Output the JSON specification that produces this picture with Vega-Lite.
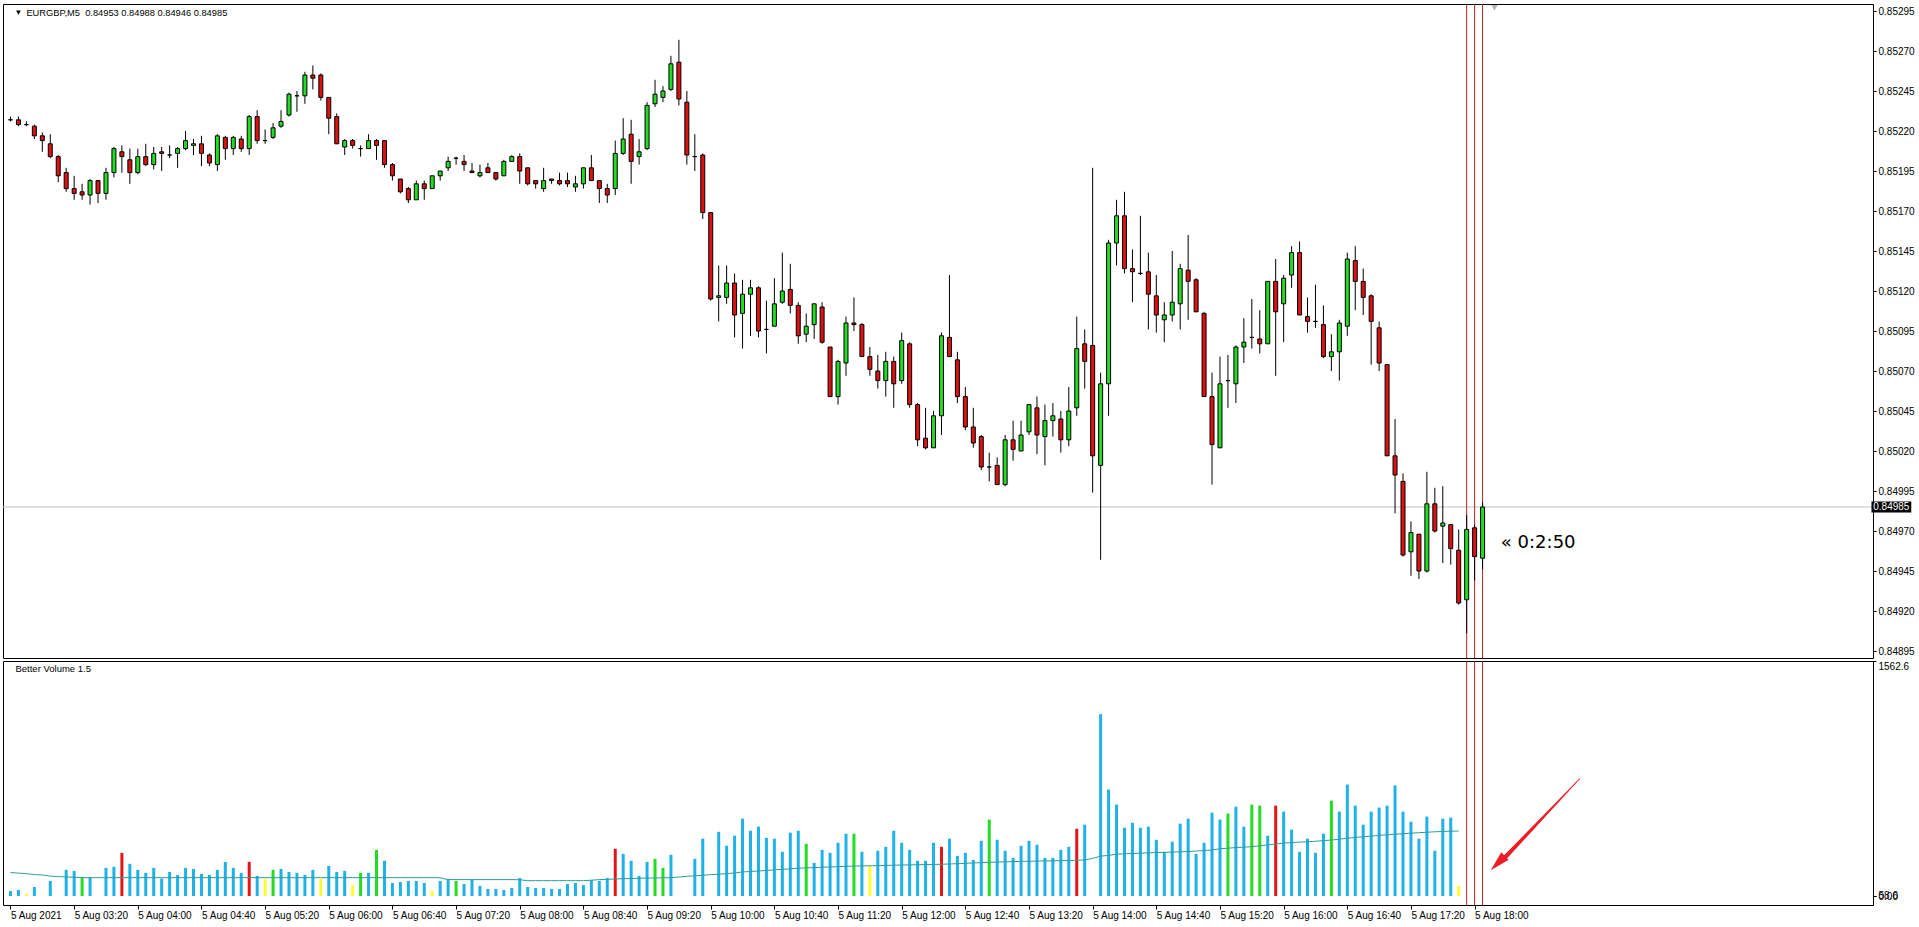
{
"$schema": "https://vega.github.io/schema/vega-lite/v6.json",
"background": "white",
"padding": {"left": 2, "top": 3, "right": 0, "bottom": 0},
"spacing": 3,
"bounds": "flush",
"config": {"view": {"stroke": "#000000", "strokeWidth": 1}, "font": "Liberation Sans", "axis": {"labelFont": "Liberation Sans", "labelFontSize": 10, "labelColor": "#000000", "tickColor": "#000000", "domain": false, "grid": false}},
"datasets": {
"bars": [
{"i":0,"t":"02:40","o":0.85227,"h":0.85229,"l":0.85226,"c":0.85227,"v":33,"vt":"normal","ma":156},
{"i":1,"t":"02:45","o":0.85227,"h":0.85229,"l":0.85223,"c":0.85224,"v":40,"vt":"normal","ma":152},
{"i":2,"t":"02:50","o":0.85224,"h":0.85226,"l":0.85223,"c":0.85224,"v":18,"vt":"low","ma":149},
{"i":3,"t":"02:55","o":0.85223,"h":0.85224,"l":0.85215,"c":0.85217,"v":60,"vt":"normal","ma":142},
{"i":4,"t":"03:00","o":0.85217,"h":0.85219,"l":0.85207,"c":0.85214,"v":90,"vt":"climaxdown","ma":140},
{"i":5,"t":"03:05","o":0.85212,"h":0.85218,"l":0.85203,"c":0.85204,"v":100,"vt":"normal","ma":132},
{"i":6,"t":"03:10","o":0.85204,"h":0.85205,"l":0.85188,"c":0.85192,"v":120,"vt":"climaxdown","ma":129},
{"i":7,"t":"03:15","o":0.85194,"h":0.85197,"l":0.85182,"c":0.85184,"v":174,"vt":"normal","ma":127},
{"i":8,"t":"03:20","o":0.85184,"h":0.85192,"l":0.85177,"c":0.85181,"v":167,"vt":"normal","ma":124},
{"i":9,"t":"03:25","o":0.85182,"h":0.85187,"l":0.85177,"c":0.8518,"v":122,"vt":"churn","ma":123},
{"i":10,"t":"03:30","o":0.8518,"h":0.8519,"l":0.85174,"c":0.85189,"v":122,"vt":"normal","ma":122},
{"i":11,"t":"03:35","o":0.85189,"h":0.85189,"l":0.85175,"c":0.85181,"v":110,"vt":"climaxdown","ma":122},
{"i":12,"t":"03:40","o":0.85181,"h":0.85197,"l":0.85177,"c":0.85194,"v":187,"vt":"normal","ma":122},
{"i":13,"t":"03:45","o":0.85194,"h":0.8521,"l":0.85191,"c":0.85209,"v":194,"vt":"normal","ma":122},
{"i":14,"t":"03:50","o":0.85207,"h":0.85211,"l":0.85194,"c":0.85204,"v":287,"vt":"climaxup","ma":122},
{"i":15,"t":"03:55","o":0.85202,"h":0.85209,"l":0.85187,"c":0.85194,"v":214,"vt":"normal","ma":122},
{"i":16,"t":"04:00","o":0.85194,"h":0.85209,"l":0.85193,"c":0.85204,"v":174,"vt":"normal","ma":122},
{"i":17,"t":"04:05","o":0.85204,"h":0.85212,"l":0.85198,"c":0.85199,"v":154,"vt":"normal","ma":122},
{"i":18,"t":"04:10","o":0.85199,"h":0.8521,"l":0.85196,"c":0.85206,"v":187,"vt":"normal","ma":122},
{"i":19,"t":"04:15","o":0.85207,"h":0.8521,"l":0.85195,"c":0.85206,"v":116,"vt":"normal","ma":122},
{"i":20,"t":"04:20","o":0.85205,"h":0.85211,"l":0.85203,"c":0.85205,"v":160,"vt":"normal","ma":122},
{"i":21,"t":"04:25","o":0.85206,"h":0.8521,"l":0.85197,"c":0.85209,"v":140,"vt":"normal","ma":122},
{"i":22,"t":"04:30","o":0.85209,"h":0.8522,"l":0.85208,"c":0.85214,"v":187,"vt":"normal","ma":122},
{"i":23,"t":"04:35","o":0.85211,"h":0.85215,"l":0.85205,"c":0.85212,"v":180,"vt":"normal","ma":122},
{"i":24,"t":"04:40","o":0.85212,"h":0.85217,"l":0.85198,"c":0.85206,"v":147,"vt":"normal","ma":122},
{"i":25,"t":"04:45","o":0.85205,"h":0.85206,"l":0.85198,"c":0.852,"v":140,"vt":"normal","ma":122},
{"i":26,"t":"04:50","o":0.85199,"h":0.85218,"l":0.85195,"c":0.85217,"v":174,"vt":"normal","ma":122},
{"i":27,"t":"04:55","o":0.85216,"h":0.85217,"l":0.85202,"c":0.85209,"v":227,"vt":"normal","ma":122},
{"i":28,"t":"05:00","o":0.85209,"h":0.85217,"l":0.85205,"c":0.85216,"v":187,"vt":"normal","ma":122},
{"i":29,"t":"05:05","o":0.85215,"h":0.85217,"l":0.85207,"c":0.85209,"v":154,"vt":"normal","ma":122},
{"i":30,"t":"05:10","o":0.85209,"h":0.8523,"l":0.85205,"c":0.85229,"v":227,"vt":"climaxup","ma":122},
{"i":31,"t":"05:15","o":0.85229,"h":0.85233,"l":0.85212,"c":0.85214,"v":134,"vt":"normal","ma":122},
{"i":32,"t":"05:20","o":0.85214,"h":0.85221,"l":0.85212,"c":0.85214,"v":114,"vt":"low","ma":122},
{"i":33,"t":"05:25","o":0.85216,"h":0.85225,"l":0.85215,"c":0.85222,"v":174,"vt":"churn","ma":122},
{"i":34,"t":"05:30","o":0.85223,"h":0.85233,"l":0.85222,"c":0.85226,"v":180,"vt":"normal","ma":122},
{"i":35,"t":"05:35","o":0.8523,"h":0.85244,"l":0.85229,"c":0.85243,"v":160,"vt":"normal","ma":122},
{"i":36,"t":"05:40","o":0.85242,"h":0.85245,"l":0.85232,"c":0.85242,"v":154,"vt":"normal","ma":122},
{"i":37,"t":"05:45","o":0.85242,"h":0.85257,"l":0.85237,"c":0.85255,"v":140,"vt":"normal","ma":122},
{"i":38,"t":"05:50","o":0.85255,"h":0.85261,"l":0.85246,"c":0.85253,"v":174,"vt":"normal","ma":122},
{"i":39,"t":"05:55","o":0.85255,"h":0.85256,"l":0.85239,"c":0.85241,"v":114,"vt":"low","ma":122},
{"i":40,"t":"06:00","o":0.85241,"h":0.85241,"l":0.85218,"c":0.85228,"v":200,"vt":"normal","ma":122},
{"i":41,"t":"06:05","o":0.85229,"h":0.85231,"l":0.85212,"c":0.85212,"v":160,"vt":"normal","ma":122},
{"i":42,"t":"06:10","o":0.8521,"h":0.85215,"l":0.85205,"c":0.85214,"v":167,"vt":"normal","ma":122},
{"i":43,"t":"06:15","o":0.85214,"h":0.85215,"l":0.85209,"c":0.85211,"v":73,"vt":"low","ma":122},
{"i":44,"t":"06:20","o":0.85209,"h":0.85211,"l":0.85204,"c":0.85209,"v":154,"vt":"churn","ma":122},
{"i":45,"t":"06:25","o":0.85209,"h":0.85218,"l":0.85209,"c":0.85214,"v":154,"vt":"normal","ma":122},
{"i":46,"t":"06:30","o":0.85214,"h":0.85215,"l":0.85202,"c":0.85211,"v":307,"vt":"churn","ma":122},
{"i":47,"t":"06:35","o":0.85214,"h":0.85214,"l":0.85197,"c":0.85199,"v":234,"vt":"normal","ma":122},
{"i":48,"t":"06:40","o":0.85199,"h":0.852,"l":0.85189,"c":0.85192,"v":87,"vt":"normal","ma":122},
{"i":49,"t":"06:45","o":0.8519,"h":0.8519,"l":0.85181,"c":0.85182,"v":93,"vt":"normal","ma":122},
{"i":50,"t":"06:50","o":0.85184,"h":0.85185,"l":0.85175,"c":0.85177,"v":100,"vt":"normal","ma":122},
{"i":51,"t":"06:55","o":0.85177,"h":0.85189,"l":0.85177,"c":0.85187,"v":100,"vt":"normal","ma":122},
{"i":52,"t":"07:00","o":0.85187,"h":0.85189,"l":0.85177,"c":0.85184,"v":87,"vt":"normal","ma":122},
{"i":53,"t":"07:05","o":0.85184,"h":0.85192,"l":0.85184,"c":0.85192,"v":33,"vt":"low","ma":122},
{"i":54,"t":"07:10","o":0.85192,"h":0.85195,"l":0.85189,"c":0.85195,"v":100,"vt":"normal","ma":121},
{"i":55,"t":"07:15","o":0.85197,"h":0.85204,"l":0.85195,"c":0.85201,"v":114,"vt":"normal","ma":109},
{"i":56,"t":"07:20","o":0.85203,"h":0.85204,"l":0.85199,"c":0.85203,"v":100,"vt":"churn","ma":109},
{"i":57,"t":"07:25","o":0.85201,"h":0.85205,"l":0.85195,"c":0.85199,"v":80,"vt":"normal","ma":109},
{"i":58,"t":"07:30","o":0.85195,"h":0.852,"l":0.85194,"c":0.85194,"v":107,"vt":"normal","ma":109},
{"i":59,"t":"07:35","o":0.85192,"h":0.85199,"l":0.85191,"c":0.85194,"v":67,"vt":"normal","ma":109},
{"i":60,"t":"07:40","o":0.85197,"h":0.852,"l":0.85194,"c":0.85194,"v":47,"vt":"normal","ma":109},
{"i":61,"t":"07:45","o":0.85194,"h":0.85194,"l":0.85189,"c":0.8519,"v":47,"vt":"normal","ma":109},
{"i":62,"t":"07:50","o":0.85192,"h":0.85202,"l":0.85192,"c":0.85201,"v":40,"vt":"normal","ma":109},
{"i":63,"t":"07:55","o":0.85201,"h":0.85205,"l":0.85201,"c":0.85204,"v":53,"vt":"normal","ma":109},
{"i":64,"t":"08:00","o":0.85204,"h":0.85206,"l":0.85187,"c":0.85195,"v":120,"vt":"normal","ma":108},
{"i":65,"t":"08:05","o":0.85197,"h":0.85197,"l":0.85186,"c":0.85187,"v":60,"vt":"normal","ma":102},
{"i":66,"t":"08:10","o":0.85189,"h":0.85189,"l":0.85184,"c":0.85187,"v":53,"vt":"normal","ma":102},
{"i":67,"t":"08:15","o":0.85184,"h":0.85197,"l":0.85182,"c":0.85189,"v":53,"vt":"normal","ma":102},
{"i":68,"t":"08:20","o":0.8519,"h":0.8519,"l":0.85187,"c":0.85189,"v":47,"vt":"normal","ma":102},
{"i":69,"t":"08:25","o":0.85189,"h":0.85194,"l":0.85186,"c":0.85187,"v":47,"vt":"normal","ma":102},
{"i":70,"t":"08:30","o":0.85189,"h":0.85194,"l":0.85185,"c":0.85187,"v":80,"vt":"normal","ma":102},
{"i":71,"t":"08:35","o":0.85185,"h":0.85192,"l":0.85182,"c":0.85187,"v":87,"vt":"normal","ma":102},
{"i":72,"t":"08:40","o":0.85187,"h":0.85197,"l":0.85184,"c":0.85197,"v":73,"vt":"normal","ma":102},
{"i":73,"t":"08:45","o":0.85197,"h":0.85205,"l":0.85189,"c":0.85189,"v":107,"vt":"normal","ma":105},
{"i":74,"t":"08:50","o":0.85189,"h":0.85189,"l":0.85175,"c":0.85184,"v":100,"vt":"normal","ma":109},
{"i":75,"t":"08:55","o":0.85184,"h":0.85187,"l":0.85175,"c":0.8518,"v":120,"vt":"normal","ma":111},
{"i":76,"t":"09:00","o":0.85184,"h":0.85214,"l":0.8518,"c":0.85206,"v":314,"vt":"climaxup","ma":113},
{"i":77,"t":"09:05","o":0.85206,"h":0.85228,"l":0.85205,"c":0.85215,"v":280,"vt":"normal","ma":115},
{"i":78,"t":"09:10","o":0.85218,"h":0.85227,"l":0.85187,"c":0.85201,"v":234,"vt":"normal","ma":116},
{"i":79,"t":"09:15","o":0.85204,"h":0.85215,"l":0.85199,"c":0.85207,"v":134,"vt":"normal","ma":118},
{"i":80,"t":"09:20","o":0.85209,"h":0.85238,"l":0.85208,"c":0.85236,"v":227,"vt":"normal","ma":119},
{"i":81,"t":"09:25","o":0.85237,"h":0.85252,"l":0.85235,"c":0.85243,"v":247,"vt":"churn","ma":120},
{"i":82,"t":"09:30","o":0.85241,"h":0.85248,"l":0.85238,"c":0.85245,"v":187,"vt":"churn","ma":121},
{"i":83,"t":"09:35","o":0.85246,"h":0.85267,"l":0.85245,"c":0.85262,"v":274,"vt":"normal","ma":122},
{"i":84,"t":"09:40","o":0.85263,"h":0.85277,"l":0.85236,"c":0.8524,"v":450,"vt":"climaxdown","ma":126},
{"i":85,"t":"09:45","o":0.85238,"h":0.85245,"l":0.85199,"c":0.85205,"v":350,"vt":"climaxdown","ma":131},
{"i":86,"t":"09:50","o":0.85204,"h":0.85218,"l":0.85195,"c":0.85204,"v":247,"vt":"normal","ma":134},
{"i":87,"t":"09:55","o":0.85205,"h":0.85206,"l":0.85165,"c":0.85169,"v":381,"vt":"normal","ma":138},
{"i":88,"t":"10:00","o":0.85169,"h":0.85169,"l":0.85114,"c":0.85115,"v":550,"vt":"climaxdown","ma":142},
{"i":89,"t":"10:05","o":0.85116,"h":0.85136,"l":0.85101,"c":0.85117,"v":427,"vt":"normal","ma":145},
{"i":90,"t":"10:10","o":0.85116,"h":0.85136,"l":0.85112,"c":0.85125,"v":334,"vt":"normal","ma":149},
{"i":91,"t":"10:15","o":0.85125,"h":0.85131,"l":0.85091,"c":0.85105,"v":401,"vt":"normal","ma":153},
{"i":92,"t":"10:20","o":0.85106,"h":0.85127,"l":0.85084,"c":0.85118,"v":514,"vt":"normal","ma":160},
{"i":93,"t":"10:25","o":0.85118,"h":0.85127,"l":0.85092,"c":0.85122,"v":434,"vt":"normal","ma":163},
{"i":94,"t":"10:30","o":0.85122,"h":0.85123,"l":0.85091,"c":0.85095,"v":461,"vt":"normal","ma":166},
{"i":95,"t":"10:35","o":0.85096,"h":0.85114,"l":0.85081,"c":0.85096,"v":387,"vt":"normal","ma":170},
{"i":96,"t":"10:40","o":0.85098,"h":0.85128,"l":0.85098,"c":0.85112,"v":381,"vt":"normal","ma":174},
{"i":97,"t":"10:45","o":0.85113,"h":0.85144,"l":0.85112,"c":0.8512,"v":294,"vt":"normal","ma":177},
{"i":98,"t":"10:50","o":0.85121,"h":0.85137,"l":0.85106,"c":0.85111,"v":421,"vt":"normal","ma":180},
{"i":99,"t":"10:55","o":0.85111,"h":0.85113,"l":0.85087,"c":0.85092,"v":434,"vt":"normal","ma":185},
{"i":100,"t":"11:00","o":0.85093,"h":0.85106,"l":0.85088,"c":0.85098,"v":347,"vt":"churn","ma":187},
{"i":101,"t":"11:05","o":0.85099,"h":0.85112,"l":0.8509,"c":0.85112,"v":220,"vt":"normal","ma":189},
{"i":102,"t":"11:10","o":0.8511,"h":0.85113,"l":0.85087,"c":0.85088,"v":307,"vt":"normal","ma":191},
{"i":103,"t":"11:15","o":0.85085,"h":0.85085,"l":0.85054,"c":0.85054,"v":287,"vt":"normal","ma":193},
{"i":104,"t":"11:20","o":0.85054,"h":0.85077,"l":0.85049,"c":0.85076,"v":354,"vt":"normal","ma":195},
{"i":105,"t":"11:25","o":0.85075,"h":0.85104,"l":0.85067,"c":0.851,"v":414,"vt":"normal","ma":197},
{"i":106,"t":"11:30","o":0.851,"h":0.85116,"l":0.85095,"c":0.85099,"v":414,"vt":"churn","ma":199},
{"i":107,"t":"11:35","o":0.85099,"h":0.851,"l":0.85079,"c":0.85079,"v":294,"vt":"normal","ma":200},
{"i":108,"t":"11:40","o":0.85079,"h":0.85085,"l":0.85067,"c":0.85071,"v":200,"vt":"low","ma":201},
{"i":109,"t":"11:45","o":0.8507,"h":0.8508,"l":0.85059,"c":0.85064,"v":301,"vt":"normal","ma":202},
{"i":110,"t":"11:50","o":0.85064,"h":0.85082,"l":0.85054,"c":0.85076,"v":327,"vt":"normal","ma":203},
{"i":111,"t":"11:55","o":0.85076,"h":0.85079,"l":0.85047,"c":0.85062,"v":434,"vt":"normal","ma":205},
{"i":112,"t":"12:00","o":0.85064,"h":0.85094,"l":0.85062,"c":0.85089,"v":354,"vt":"normal","ma":206},
{"i":113,"t":"12:05","o":0.85087,"h":0.85088,"l":0.85047,"c":0.85049,"v":307,"vt":"normal","ma":207},
{"i":114,"t":"12:10","o":0.85049,"h":0.8505,"l":0.85023,"c":0.85027,"v":234,"vt":"normal","ma":208},
{"i":115,"t":"12:15","o":0.85028,"h":0.85047,"l":0.85021,"c":0.85022,"v":234,"vt":"normal","ma":209},
{"i":116,"t":"12:20","o":0.85022,"h":0.85045,"l":0.85022,"c":0.85042,"v":354,"vt":"normal","ma":210},
{"i":117,"t":"12:25","o":0.85042,"h":0.85094,"l":0.8503,"c":0.85092,"v":327,"vt":"climaxup","ma":211},
{"i":118,"t":"12:30","o":0.85091,"h":0.8513,"l":0.85079,"c":0.85079,"v":381,"vt":"normal","ma":213},
{"i":119,"t":"12:35","o":0.85077,"h":0.85082,"l":0.8505,"c":0.85054,"v":267,"vt":"normal","ma":215},
{"i":120,"t":"12:40","o":0.85054,"h":0.8506,"l":0.85033,"c":0.85035,"v":287,"vt":"normal","ma":217},
{"i":121,"t":"12:45","o":0.85035,"h":0.85047,"l":0.85022,"c":0.85025,"v":240,"vt":"normal","ma":220},
{"i":122,"t":"12:50","o":0.85029,"h":0.8503,"l":0.85008,"c":0.8501,"v":367,"vt":"normal","ma":222},
{"i":123,"t":"12:55","o":0.8501,"h":0.85019,"l":0.85001,"c":0.8501,"v":508,"vt":"churn","ma":224},
{"i":124,"t":"13:00","o":0.85011,"h":0.85016,"l":0.84999,"c":0.84999,"v":374,"vt":"normal","ma":226},
{"i":125,"t":"13:05","o":0.84999,"h":0.8503,"l":0.84998,"c":0.85027,"v":301,"vt":"normal","ma":227},
{"i":126,"t":"13:10","o":0.85027,"h":0.85039,"l":0.85014,"c":0.85021,"v":254,"vt":"normal","ma":229},
{"i":127,"t":"13:15","o":0.8502,"h":0.85039,"l":0.8502,"c":0.8503,"v":334,"vt":"normal","ma":230},
{"i":128,"t":"13:20","o":0.85032,"h":0.85049,"l":0.8503,"c":0.85049,"v":367,"vt":"normal","ma":231},
{"i":129,"t":"13:25","o":0.85047,"h":0.85054,"l":0.85018,"c":0.8503,"v":341,"vt":"normal","ma":232},
{"i":130,"t":"13:30","o":0.85029,"h":0.85049,"l":0.85011,"c":0.85039,"v":254,"vt":"normal","ma":233},
{"i":131,"t":"13:35","o":0.85039,"h":0.8505,"l":0.85029,"c":0.85042,"v":254,"vt":"normal","ma":234},
{"i":132,"t":"13:40","o":0.8504,"h":0.85045,"l":0.85019,"c":0.85027,"v":307,"vt":"normal","ma":235},
{"i":133,"t":"13:45","o":0.85027,"h":0.8506,"l":0.85023,"c":0.85045,"v":327,"vt":"normal","ma":236},
{"i":134,"t":"13:50","o":0.85047,"h":0.85104,"l":0.85042,"c":0.85084,"v":447,"vt":"climaxup","ma":238},
{"i":135,"t":"13:55","o":0.85087,"h":0.85096,"l":0.85059,"c":0.85076,"v":474,"vt":"normal","ma":240},
{"i":136,"t":"14:00","o":0.85086,"h":0.85197,"l":0.84994,"c":0.85017,"v":650,"vt":"climaxdown","ma":250},
{"i":137,"t":"14:05","o":0.85011,"h":0.85069,"l":0.84952,"c":0.85062,"v":1209,"vt":"normal","ma":265},
{"i":138,"t":"14:10","o":0.85062,"h":0.85152,"l":0.85042,"c":0.8515,"v":708,"vt":"normal","ma":270},
{"i":139,"t":"14:15","o":0.8515,"h":0.85177,"l":0.85136,"c":0.85167,"v":608,"vt":"normal","ma":278},
{"i":140,"t":"14:20","o":0.85167,"h":0.85182,"l":0.85131,"c":0.85134,"v":454,"vt":"normal","ma":281},
{"i":141,"t":"14:25","o":0.85134,"h":0.85146,"l":0.85113,"c":0.85132,"v":487,"vt":"normal","ma":283},
{"i":142,"t":"14:30","o":0.85131,"h":0.85167,"l":0.8513,"c":0.85131,"v":454,"vt":"normal","ma":285},
{"i":143,"t":"14:35","o":0.85132,"h":0.85144,"l":0.85096,"c":0.85118,"v":461,"vt":"normal","ma":287},
{"i":144,"t":"14:40","o":0.85117,"h":0.8513,"l":0.85094,"c":0.85105,"v":374,"vt":"normal","ma":289},
{"i":145,"t":"14:45","o":0.85102,"h":0.85113,"l":0.85088,"c":0.85105,"v":294,"vt":"normal","ma":290},
{"i":146,"t":"14:50","o":0.85105,"h":0.85145,"l":0.85101,"c":0.85113,"v":361,"vt":"normal","ma":292},
{"i":147,"t":"14:55","o":0.85112,"h":0.85137,"l":0.85096,"c":0.85134,"v":481,"vt":"normal","ma":294},
{"i":148,"t":"15:00","o":0.85133,"h":0.85155,"l":0.85102,"c":0.85126,"v":514,"vt":"normal","ma":296},
{"i":149,"t":"15:05","o":0.85127,"h":0.85128,"l":0.85107,"c":0.85107,"v":280,"vt":"normal","ma":299},
{"i":150,"t":"15:10","o":0.85106,"h":0.85107,"l":0.85054,"c":0.85054,"v":354,"vt":"normal","ma":302},
{"i":151,"t":"15:15","o":0.85054,"h":0.85069,"l":0.84999,"c":0.85024,"v":554,"vt":"normal","ma":306},
{"i":152,"t":"15:20","o":0.85022,"h":0.85079,"l":0.85022,"c":0.85062,"v":508,"vt":"normal","ma":314},
{"i":153,"t":"15:25","o":0.85064,"h":0.8508,"l":0.85047,"c":0.85064,"v":548,"vt":"churn","ma":318},
{"i":154,"t":"15:30","o":0.85062,"h":0.85086,"l":0.8505,"c":0.85085,"v":594,"vt":"normal","ma":322},
{"i":155,"t":"15:35","o":0.85085,"h":0.85103,"l":0.85075,"c":0.85088,"v":461,"vt":"normal","ma":325},
{"i":156,"t":"15:40","o":0.85091,"h":0.85115,"l":0.85084,"c":0.85091,"v":608,"vt":"churn","ma":328},
{"i":157,"t":"15:45","o":0.8509,"h":0.85108,"l":0.85081,"c":0.85087,"v":601,"vt":"churn","ma":334},
{"i":158,"t":"15:50","o":0.85087,"h":0.85126,"l":0.85087,"c":0.85126,"v":401,"vt":"normal","ma":340},
{"i":159,"t":"15:55","o":0.85126,"h":0.8514,"l":0.85067,"c":0.85107,"v":601,"vt":"climaxup","ma":346},
{"i":160,"t":"16:00","o":0.85112,"h":0.8513,"l":0.85088,"c":0.85128,"v":561,"vt":"normal","ma":352},
{"i":161,"t":"16:05","o":0.8513,"h":0.85148,"l":0.85122,"c":0.85144,"v":441,"vt":"normal","ma":355},
{"i":162,"t":"16:10","o":0.85144,"h":0.85151,"l":0.85105,"c":0.85105,"v":294,"vt":"normal","ma":358},
{"i":163,"t":"16:15","o":0.85104,"h":0.85116,"l":0.85094,"c":0.85101,"v":381,"vt":"normal","ma":361},
{"i":164,"t":"16:20","o":0.85101,"h":0.85124,"l":0.85097,"c":0.85101,"v":287,"vt":"normal","ma":364},
{"i":165,"t":"16:25","o":0.85099,"h":0.85111,"l":0.85078,"c":0.85079,"v":414,"vt":"normal","ma":368},
{"i":166,"t":"16:30","o":0.85079,"h":0.85093,"l":0.8507,"c":0.85082,"v":634,"vt":"churn","ma":372},
{"i":167,"t":"16:35","o":0.85082,"h":0.85102,"l":0.85064,"c":0.851,"v":561,"vt":"normal","ma":378},
{"i":168,"t":"16:40","o":0.85098,"h":0.85144,"l":0.85092,"c":0.8514,"v":741,"vt":"normal","ma":384},
{"i":169,"t":"16:45","o":0.85139,"h":0.85148,"l":0.85108,"c":0.85126,"v":601,"vt":"normal","ma":390},
{"i":170,"t":"16:50","o":0.85126,"h":0.85134,"l":0.85105,"c":0.85116,"v":474,"vt":"normal","ma":394},
{"i":171,"t":"16:55","o":0.85117,"h":0.85118,"l":0.85074,"c":0.85101,"v":561,"vt":"normal","ma":398},
{"i":172,"t":"17:00","o":0.85097,"h":0.85101,"l":0.8507,"c":0.85075,"v":588,"vt":"normal","ma":403},
{"i":173,"t":"17:05","o":0.85074,"h":0.85074,"l":0.85017,"c":0.85017,"v":601,"vt":"normal","ma":407},
{"i":174,"t":"17:10","o":0.85017,"h":0.8504,"l":0.84981,"c":0.85005,"v":735,"vt":"normal","ma":411},
{"i":175,"t":"17:15","o":0.85001,"h":0.85006,"l":0.84954,"c":0.84955,"v":561,"vt":"normal","ma":414},
{"i":176,"t":"17:20","o":0.84957,"h":0.84976,"l":0.84942,"c":0.84969,"v":494,"vt":"normal","ma":418},
{"i":177,"t":"17:25","o":0.84968,"h":0.84968,"l":0.8494,"c":0.84945,"v":381,"vt":"normal","ma":421},
{"i":178,"t":"17:30","o":0.84945,"h":0.85007,"l":0.84944,"c":0.84987,"v":528,"vt":"normal","ma":424},
{"i":179,"t":"17:35","o":0.84987,"h":0.84997,"l":0.84969,"c":0.8497,"v":301,"vt":"normal","ma":427},
{"i":180,"t":"17:40","o":0.84973,"h":0.84998,"l":0.8495,"c":0.84975,"v":514,"vt":"normal","ma":429},
{"i":181,"t":"17:45","o":0.84974,"h":0.84974,"l":0.84949,"c":0.84959,"v":521,"vt":"normal","ma":431},
{"i":182,"t":"17:50","o":0.84958,"h":0.84971,"l":0.84924,"c":0.84925,"v":67,"vt":"low","ma":432},
{"i":183,"t":"17:55","o":0.84927,"h":0.8498,"l":0.84906,"c":0.84971,"v":null,"vt":null,"ma":null},
{"i":184,"t":"18:00","o":0.84972,"h":0.84974,"l":0.84939,"c":0.84954,"v":null,"vt":null,"ma":null},
{"i":185,"t":"18:05","o":0.84953,"h":0.84988,"l":0.84946,"c":0.84985,"v":null,"vt":null,"ma":null}
],
"vlines": [{"i":183},{"i":184},{"i":185}],
"arrow": [{"part":"tail","i":197.2,"v":780},{"part":"neck","i":187.6,"v":244}]
},
"vconcat": [
{
"width": 1870,
"height": 654,
"layer": [
{"data": {"values": [{"p": 0.84985}]}, "mark": {"type": "rule", "color": "#c0c0c0", "strokeWidth": 1},
 "encoding": {"y": {"field": "p", "type": "quantitative", "scale": {"domain": [0.84890625, 0.85299375], "nice": false, "zero": false},
   "axis": {"orient": "right", "title": null, "values": [0.84895,0.8492,0.84945,0.8497,0.84995,0.8502,0.85045,0.8507,0.85095,0.8512,0.85145,0.8517,0.85195,0.8522,0.85245,0.8527,0.85295], "format": ".5f", "tickSize": 3, "labelPadding": 2, "labelFontSize": 10, "labelOverlap": false, "labelFlush": false}}}},
{"data": {"name": "vlines"}, "mark": {"type": "rule", "color": "#b22222", "strokeWidth": 1},
 "encoding": {"x": {"field": "i", "type": "quantitative", "scale": {"domain": [-0.3125, 233.4375], "nice": false, "zero": false}, "axis": null}}},
{"data": {"name": "bars"}, "mark": {"type": "rule", "color": "#000000", "strokeWidth": 1},
 "encoding": {"x": {"field": "i", "type": "quantitative", "scale": {"domain": [-0.3125, 233.4375], "nice": false, "zero": false}, "axis": null},
  "y": {"field": "l", "type": "quantitative", "scale": {"domain": [0.84890625, 0.85299375], "nice": false, "zero": false}},
  "y2": {"field": "h"}}},
{"data": {"name": "bars"}, "mark": {"type": "bar", "orient": "vertical", "width": 4, "stroke": "#000000", "strokeWidth": 1},
 "encoding": {"x": {"field": "i", "type": "quantitative", "scale": {"domain": [-0.3125, 233.4375], "nice": false, "zero": false}, "axis": null},
  "y": {"field": "o", "type": "quantitative", "scale": {"domain": [0.84890625, 0.85299375], "nice": false, "zero": false}},
  "y2": {"field": "c"},
  "fill": {"condition": {"test": "datum.c > datum.o", "value": "#22dd22"}, "value": "#dd1111"}}},
{"data": {"values": [{"label": "EURGBP,M5\u00a0\u00a00.84953 0.84988 0.84946 0.84985"}]},
 "mark": {"type": "text", "align": "left", "baseline": "middle", "fontSize": 9.3, "font": "Liberation Sans", "color": "#000000"},
 "encoding": {"x": {"datum": 2.0, "type": "quantitative"}, "y": {"datum": 0.85294, "type": "quantitative"}, "text": {"field": "label"}}},
{"data": {"values": [{"k": "menu"}]},
 "mark": {"type": "point", "shape": "triangle-down", "filled": true, "size": 22, "color": "#000000", "opacity": 1},
 "encoding": {"x": {"datum": 1.0, "type": "quantitative"}, "y": {"datum": 0.85294, "type": "quantitative"}}},
{"data": {"values": [{"k": "shift"}]},
 "mark": {"type": "point", "shape": "triangle-down", "filled": true, "size": 40, "color": "#b4b4b4", "opacity": 1},
 "encoding": {"x": {"datum": 186.5, "type": "quantitative"}, "y": {"datum": 0.85297, "type": "quantitative"}}},
{"data": {"values": [{"label": "\u00ab 0:2:50"}]},
 "mark": {"type": "text", "align": "left", "baseline": "middle", "fontSize": 18, "font": "DejaVu Sans", "color": "#000000"},
 "encoding": {"x": {"datum": 187.3, "type": "quantitative"}, "y": {"datum": 0.849627, "type": "quantitative"}, "text": {"field": "label"}}},
{"data": {"values": [{"p": 0.84985}]},
 "mark": {"type": "rect", "color": "#000000", "clip": false},
 "encoding": {"x": {"datum": 233.875, "type": "quantitative"}, "x2": {"datum": 238.875}, "y": {"datum": 0.8498156, "type": "quantitative"}, "y2": {"datum": 0.8498844}}},
{"data": {"values": [{"p": 0.84985}]},
 "mark": {"type": "text", "align": "left", "baseline": "middle", "fontSize": 10, "font": "Liberation Sans", "color": "#ffffff", "clip": false},
 "encoding": {"x": {"datum": 234.1, "type": "quantitative"}, "y": {"field": "p", "type": "quantitative"}, "text": {"field": "p", "type": "quantitative", "format": ".5f"}}}
]
},
{
"width": 1870,
"height": 244,
"layer": [
{"data": {"name": "bars"}, "mark": {"type": "bar", "orient": "vertical", "width": 3},
 "encoding": {"x": {"field": "i", "type": "quantitative", "scale": {"domain": [-0.3125, 233.4375], "nice": false, "zero": false},
   "axis": {"title": null, "values": [0,8,16,24,32,40,48,56,64,72,80,88,96,104,112,120,128,136,144,152,160,168,176,184], "tickSize": 4, "labelPadding": 1, "labelAlign": "left", "labelFontSize": 10, "labelOverlap": false, "labelFlush": false,
   "labelExpr": "datum.value == 0 ? '5 Aug 2021' : '5 Aug ' + pad(floor((160 + 5 * datum.value) / 60) + '', 2, '0', 'left') + ':' + pad(((160 + 5 * datum.value) % 60) + '', 2, '0', 'left')"}},
  "y": {"field": "v", "type": "quantitative", "scale": {"domain": [-59.8, 1562.6], "nice": false, "zero": false},
   "axis": {"orient": "right", "title": null, "values": [0, 0.5, 1562.6], "tickSize": 3, "labelPadding": 2, "labelFontSize": 10, "labelOverlap": false, "labelFlush": true,
   "labelExpr": "datum.value == 0 ? '0.00' : (datum.value < 1 ? '58.6' : '1562.6')"}},
  "y2": {"datum": 0},
  "color": {"field": "vt", "type": "nominal", "scale": {"domain": ["normal", "low", "climaxup", "climaxdown", "churn"], "range": ["#1fb2e8", "#ffff33", "#e51515", "#ffffff", "#22dd22"]}, "legend": null}}},
{"data": {"name": "bars"}, "mark": {"type": "line", "color": "#2e9c9c", "strokeWidth": 1},
 "encoding": {"x": {"field": "i", "type": "quantitative", "scale": {"domain": [-0.3125, 233.4375], "nice": false, "zero": false}},
  "y": {"field": "ma", "type": "quantitative", "scale": {"domain": [-59.8, 1562.6], "nice": false, "zero": false}}}},
{"data": {"name": "vlines"}, "mark": {"type": "rule", "color": "#b22222", "strokeWidth": 1},
 "encoding": {"x": {"field": "i", "type": "quantitative", "scale": {"domain": [-0.3125, 233.4375], "nice": false, "zero": false}}}},
{"data": {"values": [{"label": "Better Volume 1.5"}]},
 "mark": {"type": "text", "align": "left", "baseline": "middle", "fontSize": 9.5, "font": "Liberation Sans", "color": "#000000"},
 "encoding": {"x": {"datum": 0.625, "type": "quantitative"}, "y": {"datum": 1509, "type": "quantitative"}, "text": {"field": "label"}}},
{"data": {"name": "arrow"},
 "mark": {"type": "trail", "color": "#ee1c25", "opacity": 1},
 "encoding": {"x": {"field": "i", "type": "quantitative"}, "y": {"field": "v", "type": "quantitative"},
  "size": {"field": "part", "type": "nominal", "scale": {"domain": ["tail", "neck"], "range": [0.8, 4.5]}, "legend": null}}},
{"data": {"values": [{"k": "arrowhead"}]},
 "mark": {"type": "point", "shape": "M0,-1L0.5,0.9L-0.5,0.9Z", "angle": 225, "filled": true, "size": 441, "color": "#ee1c25", "opacity": 1},
 "encoding": {"x": {"datum": 186.97, "type": "quantitative"}, "y": {"datum": 221, "type": "quantitative"}}}
]
}
]
}
